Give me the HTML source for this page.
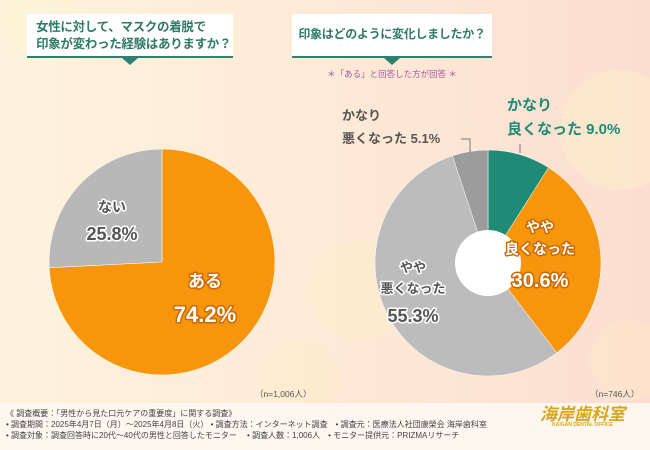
<!DOCTYPE html>
<html><head><meta charset="utf-8"><style>
html,body{margin:0;padding:0}
body{width:650px;height:450px;overflow:hidden;position:relative;font-family:"Liberation Sans","Noto Sans CJK JP",sans-serif;background:linear-gradient(90deg,#fdf3dc 0%,#fde8d6 60%,#fcded0 100%)}
.box{position:absolute;background:#fff;border-bottom:2px solid #2f8070;color:#2f7a68;font-weight:bold;box-sizing:border-box;white-space:nowrap;letter-spacing:-0.3px}
.tri{position:absolute;width:0;height:0;border-left:8px solid transparent;border-right:8px solid transparent;border-top:7px solid #2f8070}
.foot{position:absolute;left:0;top:403px;width:650px;height:47px;background:#fdf7ef;font-size:8px;color:#444;line-height:11px;white-space:nowrap}
</style></head><body>
<svg width="650" height="450" style="position:absolute;left:0;top:0">
<circle cx="620" cy="130" r="60" fill="#fff5c8" opacity=".35"/><circle cx="360" cy="290" r="50" fill="#fff2c0" opacity=".3"/><circle cx="300" cy="380" r="40" fill="#fff0c0" opacity=".3"/><circle cx="40" cy="20" r="40" fill="#fff6d0" opacity=".3"/><circle cx="630" cy="360" r="40" fill="#fff0c8" opacity=".3"/>
</svg>
<div class="box" style="left:27px;top:14px;width:206px;height:44px;font-size:12.5px;line-height:17px;padding:5px 0 0 9px">女性に対して、マスクの着脱で<br>印象が変わった経験はありますか？</div>
<div class="tri" style="left:122px;top:58px"></div>
<div class="box" style="left:292px;top:14px;width:200px;height:44px;font-size:12px;line-height:40px;text-align:center">印象はどのように変化しましたか？</div>
<div class="tri" style="left:384px;top:58px"></div>
<div style="position:absolute;left:292px;width:200px;top:68px;text-align:center;font-size:8.5px;color:#a65aa0">＊「ある」と回答した方が回答 ＊</div>

<svg id="chart" width="650" height="450" style="position:absolute;left:0;top:0"></svg>

<div style="position:absolute;left:255px;top:388px;font-size:8.5px;color:#555">（n=1,006人）</div>
<div style="position:absolute;left:590px;top:388px;font-size:8.5px;color:#555">（n=746人）</div>
<div class="foot">
<div style="position:absolute;left:6px;top:5px">《 調査概要：「男性から見た口元ケアの重要度」に関する調査》<br>• 調査期間：2025年4月7日（月）～2025年4月8日（火） • 調査方法：インターネット調査　• 調査元：医療法人社団康榮会 海岸歯科室<br>• 調査対象：調査回答時に20代～40代の男性と回答したモニター　 • 調査人数：1,006人　• モニター提供元：PRIZMAリサーチ</div>
<div style="position:absolute;left:540px;top:6px;color:#d9a520;font-size:17px;font-weight:bold;font-style:italic">海岸歯科室<div style="font-size:5px;font-style:normal;text-align:center">KAIGAN DENTAL OFFICE</div></div>
</div>
<script>
const leftCats=["ある","ない"];
const leftVals=[74.2,25.8];
const leftColors=["#f7960d","#b8b8b8"];
const rightCats=["かなり良くなった","やや良くなった","やや悪くなった","かなり悪くなった"];
const rightVals=[9.0,30.6,55.3,5.1];
const rightColors=["#1f8a76","#f7960d","#bcbcbc","#9c9c9c"];
const svg=document.getElementById('chart');
const NS="http://www.w3.org/2000/svg";
function pt(cx,cy,r,a){return [cx+r*Math.sin(a),cy-r*Math.cos(a)];}
function drawPie(cx,cy,r,vals,cols,names){
  const tot=vals.reduce((a,b)=>a+b,0);let a0=0;
  vals.forEach((v,i)=>{const a1=a0+v/tot*2*Math.PI;const p0=pt(cx,cy,r,a0),p1=pt(cx,cy,r,a1);
    const p=document.createElementNS(NS,'path');
    p.setAttribute('d',`M${cx},${cy}L${p0[0]},${p0[1]}A${r},${r} 0 ${a1-a0>Math.PI?1:0} 1 ${p1[0]},${p1[1]}Z`);
    p.setAttribute('fill',cols[i]);p.setAttribute('stroke','#fff');p.setAttribute('stroke-width','0.5');
    
    
    svg.appendChild(p);a0=a1;});
}
function txt(x,y,s,size,fill,stroke,name,anchor){const t=document.createElementNS(NS,'text');t.setAttribute('x',x);t.setAttribute('y',y);t.setAttribute('font-size',size);t.setAttribute('font-weight','bold');t.setAttribute('fill',fill);t.setAttribute('text-anchor',anchor||'middle');
 if(stroke){t.setAttribute('stroke',stroke);t.setAttribute('stroke-width','3');t.setAttribute('paint-order','stroke');t.setAttribute('stroke-linejoin','round');}
 t.setAttribute('font-family','"Liberation Sans","Noto Sans CJK JP",sans-serif');t.textContent=s;
 
 
 svg.appendChild(t);}
drawPie(162,262,113,leftVals,leftColors,["aru","nai"]);
drawPie(488,263,113,rightVals,rightColors,["very-better","slightly-better","slightly-worse","very-worse"]);
const hole=document.createElementNS(NS,'circle');hole.setAttribute('cx',488);hole.setAttribute('cy',263);hole.setAttribute('r',33);hole.setAttribute('fill','#fff');


svg.appendChild(hole);
txt(112,212,leftCats[1],14,"#555","#fff","label-nai");
txt(112,240,leftVals[1].toFixed(1)+"%",18,"#555","#fff","value-nai");
txt(205,287,leftCats[0],17,"#fff","#c86a00","label-aru");
txt(205,322,leftVals[0].toFixed(1)+"%",22,"#fff","#c86a00","value-aru");
txt(540,232,"やや",14,"#fff","#c86a00","label-slightly-better");
txt(540,254,"良くなった",14,"#fff","#c86a00","label-slightly-better-2");
txt(540,287,rightVals[1].toFixed(1)+"%",20,"#fff","#c86a00","value-slightly-better");
txt(413,272,"やや",13,"#555","#fff","label-slightly-worse");
txt(413,293,"悪くなった",13,"#555","#fff","label-slightly-worse-2");
txt(413,322,rightVals[2].toFixed(1)+"%",18,"#555","#fff","value-slightly-worse");
txt(507,110,"かなり",15,"#1f8a76",null,"label-very-better","start");
txt(507,134,"良くなった "+rightVals[0].toFixed(1)+"%",15,"#1f8a76",null,"value-very-better","start");
txt(342,120,"かなり",13,"#555",null,"label-very-worse","start");
txt(342,143,"悪くなった "+rightVals[3].toFixed(1)+"%",13,"#555",null,"value-very-worse","start");
const l=document.createElementNS(NS,'path');l.setAttribute('d','M461,139H470V152M520,144V153');l.setAttribute('stroke','#777');l.setAttribute('fill','none');


svg.appendChild(l);
</script>
</body></html>
